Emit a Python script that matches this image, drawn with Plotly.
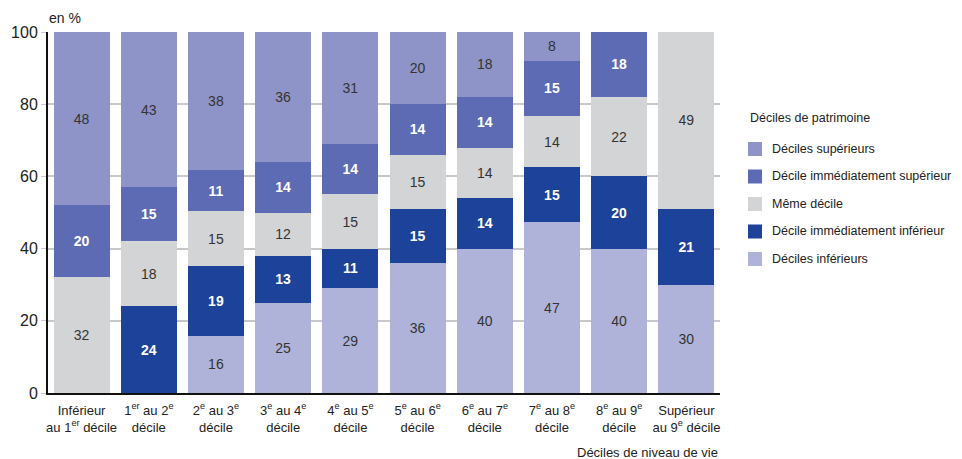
import plotly.graph_objects as go

categories = [
    "Inférieur<br>au 1<sup>er</sup> décile",
    "1<sup>er</sup> au 2<sup>e</sup><br>décile",
    "2<sup>e</sup> au 3<sup>e</sup><br>décile",
    "3<sup>e</sup> au 4<sup>e</sup><br>décile",
    "4<sup>e</sup> au 5<sup>e</sup><br>décile",
    "5<sup>e</sup> au 6<sup>e</sup><br>décile",
    "6<sup>e</sup> au 7<sup>e</sup><br>décile",
    "7<sup>e</sup> au 8<sup>e</sup><br>décile",
    "8<sup>e</sup> au 9<sup>e</sup><br>décile",
    "Supérieur<br>au 9<sup>e</sup> décile",
]

# Segment sizes (labels are the rounded values)
deciles_inferieurs = [None, None, 15.9, 25, 29, 36, 40, 47.3, 40, 30]
decile_imm_inferieur = [None, 24, 19.2, 13, 11, 15, 14, 15.2, 20, 21]
meme_decile = [32, 18, 15.2, 12, 15, 15, 14, 14.2, 22, 49]
decile_imm_superieur = [20, 15, 11.4, 14, 14, 14, 14, 15.3, 18, None]
deciles_superieurs = [48, 43, 38.3, 36, 31, 20, 18, 8.0, None, None]

series = [
    ("Déciles inférieurs", deciles_inferieurs, "#b0b3d9", False),
    ("Décile immédiatement inférieur", decile_imm_inferieur, "#1d4299", True),
    ("Même décile", meme_decile, "#d3d4d6", False),
    ("Décile immédiatement supérieur", decile_imm_superieur, "#5c6bb4", True),
    ("Déciles supérieurs", deciles_superieurs, "#8f94c8", False),
]

FONT = "Liberation Sans, Arial, Helvetica, sans-serif"
TXT = "#222222"

W, H = 954, 451
L, R, T, B = 40, 242, 24, 66
PW, PH = W - L - R, H - T - B


def px(x):
    return (x - L) / PW


def py(y):
    return (H - B - y) / PH


fig = go.Figure()
for i, (name, vals, color, bold) in enumerate(series):
    fig.add_trace(go.Bar(
        x=categories, y=vals, name=name,
        marker=dict(color=color, line=dict(width=0)),
        texttemplate="<b>%{y:.0f}</b>" if bold else "%{y:.0f}",
        textposition="inside", insidetextanchor="middle",
        textangle=0,
        textfont=dict(family=FONT, size=14, color="#ffffff" if bold else "#333333"),
        hoverinfo="skip",
        showlegend=False,
    ))

# Manual legend (top item = top series)
shapes = []
annotations = [
    dict(text="Déciles de patrimoine", xref="paper", yref="paper",
         x=px(740), y=py(110), xanchor="left", yanchor="middle", showarrow=False,
         font=dict(family=FONT, size=12.5, color=TXT)),
]
legend_y = [141, 168.5, 196, 223.5, 251]
for (name, vals, color, bold), yc in zip(series[::-1], legend_y):
    shapes.append(dict(type="rect", xref="paper", yref="paper",
                       x0=px(740), x1=px(754), y0=py(yc + 7), y1=py(yc - 7),
                       fillcolor=color, line=dict(width=0), layer="above"))
    annotations.append(dict(text=name, xref="paper", yref="paper",
                            x=px(762), y=py(yc), xanchor="left", yanchor="middle",
                            showarrow=False, font=dict(family=FONT, size=12.5, color=TXT)))

annotations += [
    dict(text="en %", xref="paper", yref="paper", x=px(39), y=py(10),
         xanchor="left", yanchor="middle", showarrow=False,
         font=dict(family=FONT, size=14, color=TXT)),
    dict(text="Déciles de niveau de vie", xref="paper", yref="paper", x=px(712), y=py(444),
         xanchor="right", yanchor="middle", showarrow=False,
         font=dict(family=FONT, size=13, color=TXT)),
]

fig.update_layout(
    barmode="stack",
    bargap=0.167,
    width=W, height=H,
    margin=dict(l=L, r=R, t=T, b=B, autoexpand=False),
    plot_bgcolor="white", paper_bgcolor="white",
    font=dict(family=FONT, size=13, color=TXT),
    showlegend=False,
    xaxis=dict(
        showline=True, linecolor="#111111", linewidth=2,
        ticks="", tickangle=0, ticklabelstandoff=4,
        tickfont=dict(family=FONT, size=13, color=TXT),
        showgrid=False, automargin=False,
    ),
    yaxis=dict(
        range=[0, 100], tickvals=[0, 20, 40, 60, 80, 100],
        showline=True, linecolor="#111111", linewidth=2,
        showgrid=True, gridcolor="#c8c8c8", gridwidth=1.5,
        ticks="outside", ticklen=5, tickcolor="#c8c8c8",
        tickfont=dict(family=FONT, size=16, color=TXT),
        zeroline=False, automargin=False,
    ),
    shapes=shapes,
    annotations=annotations,
)

fig.write_html("out.html")
